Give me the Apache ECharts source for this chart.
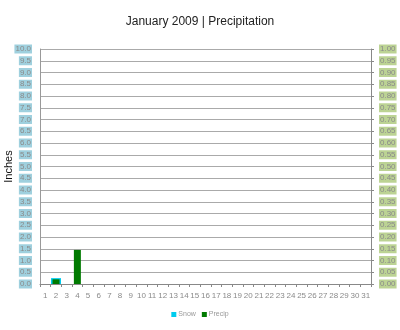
<!DOCTYPE html>
<html><head><meta charset="utf-8">
<script src="https://cdn.jsdelivr.net/npm/echarts@6/dist/echarts.min.js"></script>
<style>html,body{margin:0;padding:0;background:#fff}#c{width:400px;height:330px}</style>
</head><body><div id="c"></div>
<script>
var days = [];
for (var i = 1; i <= 31; i++) days.push(String(i));
var snow = [null,0.25,null,null,null,null,null,null,null,null,null,null,null,null,null,null,null,null,null,null,null,null,null,null,null,null,null,null,null,null,null];
var precip = [null,0.02,null,0.145,null,null,null,null,null,null,null,null,null,null,null,null,null,null,null,null,null,null,null,null,null,null,null,null,null,null,null];
var leftTicks = {min:0, max:10, interval:0.5};
var rightTicks = {min:0, max:1, interval:0.05};

var chart = echarts.init(document.getElementById('c'), null, {renderer:'canvas'});
var lblFont = {fontFamily:'Liberation Sans, Arial, sans-serif', fontSize:8, color:'#8a8a8a'};
chart.setOption({
  animation:false,
  title:{text:'January 2009 | Precipitation', left:'center', top:11,
    textStyle:{fontFamily:'Liberation Sans, Arial, sans-serif', fontSize:12, fontWeight:'normal', color:'#222'}},
  legend:{bottom:7, left:'center', itemWidth:5, itemHeight:5, itemGap:6,
    icon:'rect', textStyle:{fontFamily:'Liberation Sans, Arial, sans-serif', fontSize:7, color:'#999', padding:[0,0,0,-3]},
    data:['Snow','Precip']},
  grid:{left:40, right:29, top:49, bottom:46, outerBoundsMode:'none', containLabel:false},
  xAxis:[{type:'category', data:days, boundaryGap:true,
      axisLine:{lineStyle:{color:'#888'}},
      axisTick:{show:true, length:3, lineStyle:{color:'#888'}},
      axisLabel:Object.assign({margin:8, interval:0}, lblFont)},
    {type:'category', data:days, show:false, gridIndex:0}],
  yAxis:[{type:'value', min:leftTicks.min, max:leftTicks.max, interval:leftTicks.interval,
      name:'Inches', nameLocation:'middle', nameGap:26, nameRotate:90, nameMoveOverlap:false,
      nameTextStyle:{fontFamily:'Liberation Sans, Arial, sans-serif', fontSize:11, color:'#111'},
      axisLine:{show:true, lineStyle:{color:'#999'}},
      axisTick:{show:false},
      splitLine:{lineStyle:{color:'#aaa'}},
      axisLabel:Object.assign({margin:8, backgroundColor:'#9fd0de', padding:[1,1,0,1],
        formatter:function(v){return v.toFixed(1);}}, lblFont)},
    {type:'value', min:rightTicks.min, max:rightTicks.max, interval:rightTicks.interval, position:'right',
      axisLine:{show:true, lineStyle:{color:'#888'}},
      axisTick:{show:true, length:3, lineStyle:{color:'#888'}},
      splitLine:{show:false},
      axisLabel:Object.assign({margin:8, backgroundColor:'#bcd394', padding:[1,1,0,1],
        formatter:function(v){return v.toFixed(2);}}, lblFont)}],
  series:[
    {name:'Snow', type:'bar', data:snow, xAxisIndex:0, yAxisIndex:0, barWidth:10,
      itemStyle:{color:'#00ccee'}},
    {name:'Precip', type:'bar', data:precip, xAxisIndex:1, yAxisIndex:1, barWidth:7,
      itemStyle:{color:'#007a00'}}
  ]
});
</script></body></html>
